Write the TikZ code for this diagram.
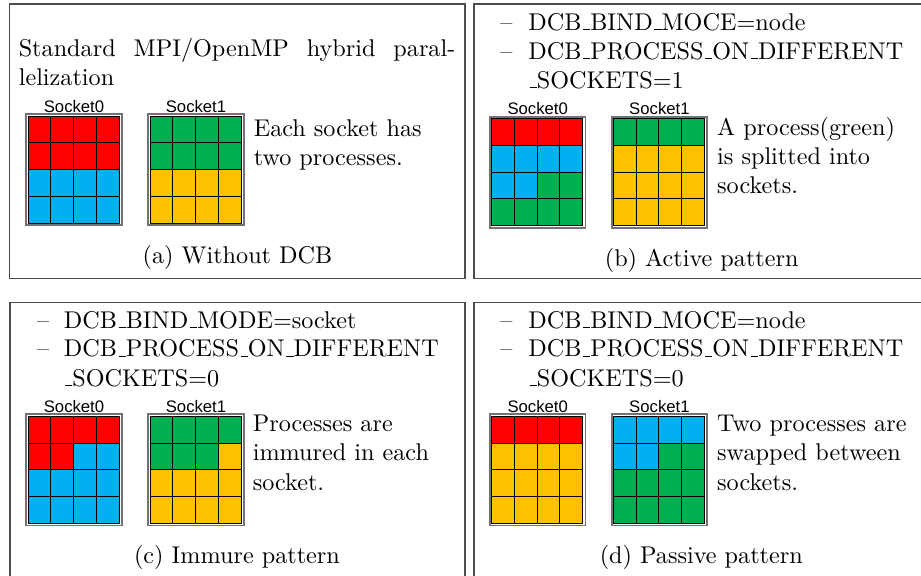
\documentclass[tikz,border=0pt]{standalone}
\usepackage{fontspec}
\newfontfamily\labelfont{Liberation Sans}
% underscore drawn as a baseline rule, as in classic LaTeX
\newcommand\us{\leavevmode\kern.06em\vbox{\hrule width.3em}}
\definecolor{pR}{HTML}{FF0000}
\definecolor{pB}{HTML}{00B0F0}
\definecolor{pG}{HTML}{00B050}
\definecolor{pY}{HTML}{FFC000}
\tikzset{
  frame/.style={draw=black!70, line width=0.45pt},
  txt/.style={anchor=base west, inner sep=0pt, font=\fontsize{10}{12}\selectfont},
  capt/.style={anchor=base, inner sep=0pt, font=\fontsize{10}{12}\selectfont},
  socklabel/.style={anchor=base, inner sep=0pt, font=\labelfont\fontsize{6.9}{8}\selectfont},
  cellline/.style={draw=black, line width=0.4pt},
  sockborder/.style={draw=black!55, line width=0.7pt},
}
% #1 name, #2 x, #3 y (top-left), #4 label, #5 sixteen colour letters row by row
\newcommand\socket[5]{%
  \begin{scope}[shift={(#2,#3)}]
    \foreach \c [count=\i from 0] in {#5} {
      \pgfmathtruncatemacro\col{mod(\i,4)}
      \pgfmathtruncatemacro\row{div(\i,4)}
      \fill[p\c] (1.7+\col*22.75, 2+\row*26.75) rectangle ++(22.75,26.75);
    }
    \foreach \k in {1,2,3} {
      \draw[cellline] (1.7+\k*22.75,2) -- (1.7+\k*22.75,109);
      \draw[cellline] (1.7,2+\k*26.75) -- (92.7,2+\k*26.75);
    }
    \draw[cellline] (1.7,2) rectangle (92.7,109);
    \draw[sockborder] (0,0) rectangle (95.4,111.2);
    \node[socklabel] (#1) at (47.7,-2) {#4};
  \end{scope}}
\begin{document}
\begin{tikzpicture}[x=0.4132pt, y=-0.4132pt]
  \useasboundingbox (0,0) rectangle (921,576);
  \clip (0,0) rectangle (921,576);

  % panel frames
  \draw[frame] (9.5,4) rectangle (465,278.3);
  \draw[frame] (474,4) rectangle (940,278.3);
  \draw[frame] (10,302.7) rectangle (465,600);
  \draw[frame] (474,302.7) rectangle (940,600);

  % (a) without DCB
  \node[txt] (a1) at (18.3,56.7) {\makebox[180.4pt][s]{Standard MPI/OpenMP hybrid paral-}};
  \node[txt] (a2) at (18.3,85) {lelization};
  \socket{a-s0}{26.3}{114}{Socket0}{R,R,R,R,R,R,R,R,B,B,B,B,B,B,B,B}
  \socket{a-s1}{148.3}{114}{Socket1}{G,G,G,G,G,G,G,G,Y,Y,Y,Y,Y,Y,Y,Y}
  \node[txt] (a3) at (253.3,136) {Each socket has};
  \node[txt] (a4) at (253.3,165.3) {two processes.};
  \node[capt] (acap) at (237.5,263) {(a) Without DCB};

  % (b) active pattern
  \node[txt] (b0) at (500,30) {\textendash};
  \node[txt] (b1) at (528,30) {DCB\us BIND\us MOCE=node};
  \node[txt] (b2d) at (500,59.3) {\textendash};
  \node[txt] (b2) at (528,59.3) {DCB\us PROCESS\us ON\us DIFFERENT};
  \node[txt] (b3) at (527.7,88.3) {\us SOCKETS=1};
  \socket{b-s0}{490}{116.7}{Socket0}{R,R,R,R,B,B,B,B,B,B,G,G,G,G,G,G}
  \socket{b-s1}{611.7}{116.7}{Socket1}{G,G,G,G,Y,Y,Y,Y,Y,Y,Y,Y,Y,Y,Y,Y}
  \node[txt] (b4) at (716.7,135) {A process(green)};
  \node[txt] (b5) at (716.7,164) {is splitted into};
  \node[txt] (b6) at (716.7,193.3) {sockets.};
  \node[capt] (bcap) at (701.7,266.7) {(b) Active pattern};

  % (c) immure pattern
  \node[txt] (c0) at (36.7,328.3) {\textendash};
  \node[txt] (c1) at (63.5,328.3) {DCB\us BIND\us MODE=socket};
  \node[txt] (c2d) at (36.7,356.7) {\textendash};
  \node[txt] (c2) at (63.5,356.7) {DCB\us PROCESS\us ON\us DIFFERENT};
  \node[txt] (c3) at (63.2,386.3) {\us SOCKETS=0};
  \socket{c-s0}{26.3}{414.3}{Socket0}{R,R,R,R,R,R,B,B,B,B,B,B,B,B,B,B}
  \socket{c-s1}{148.3}{414.3}{Socket1}{G,G,G,G,G,G,G,Y,Y,Y,Y,Y,Y,Y,Y,Y}
  \node[txt] (c4) at (252.3,431.7) {Processes are};
  \node[txt] (c5) at (252.3,460.7) {immured in each};
  \node[txt] (c6) at (252.3,490) {socket.};
  \node[capt] (ccap) at (237,563.3) {(c) Immure pattern};

  % (d) passive pattern
  \node[txt] (d0) at (500,328.3) {\textendash};
  \node[txt] (d1) at (528,328.3) {DCB\us BIND\us MOCE=node};
  \node[txt] (d2d) at (500,356.7) {\textendash};
  \node[txt] (d2) at (528,356.7) {DCB\us PROCESS\us ON\us DIFFERENT};
  \node[txt] (d3) at (527.7,386.3) {\us SOCKETS=0};
  \socket{d-s0}{490}{414.3}{Socket0}{R,R,R,R,Y,Y,Y,Y,Y,Y,Y,Y,Y,Y,Y,Y}
  \socket{d-s1}{611.7}{414.3}{Socket1}{B,B,B,B,B,B,G,G,G,G,G,G,G,G,G,G}
  \node[txt] (d4) at (716.7,431.7) {Two processes are};
  \node[txt] (d5) at (716.7,460.7) {swapped between};
  \node[txt] (d6) at (716.7,490) {sockets.};
  \node[capt] (dcap) at (701.3,563) {(d) Passive pattern};
\end{tikzpicture}
\end{document}
